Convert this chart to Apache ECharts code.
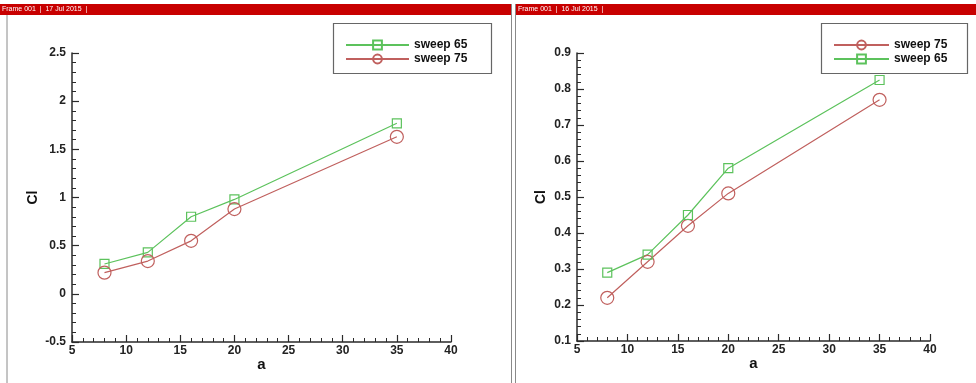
<!DOCTYPE html>
<html>
<head>
<meta charset="utf-8">
<script src="https://cdn.jsdelivr.net/npm/echarts@6/dist/echarts.min.js"></script>
<style>
html,body{margin:0;padding:0;background:#fff;}
#chart{width:976px;height:383px;}
</style>
</head>
<body>
<div id="chart"></div>
<script>
// ---- data ----
const alphaValues = [8, 12, 16, 20, 35];
const leftSweep65 = [0.31, 0.43, 0.80, 0.98, 1.77];
const leftSweep75 = [0.22, 0.34, 0.55, 0.88, 1.63];
const rightSweep75 = [0.22, 0.32, 0.42, 0.51, 0.77];
const rightSweep65 = [0.29, 0.34, 0.45, 0.58, 0.825];
const leftFrameTitle = 'Frame 001  |  17 Jul 2015  |';
const rightFrameTitle = 'Frame 001  |  16 Jul 2015  |';
const xAxisRange = [5, 40, 5];
const leftYRange = [-0.5, 2.5, 0.5];
const rightYRange = [0.1, 0.9, 0.1];
const xName = 'a';
const yName = 'Cl';
const names = ['sweep 65', 'sweep 75'];

const GREEN = '#5cc25c';
const RED = '#c0605e';
const AXIS = '#2a2a2a';
const FONT = 'Liberation Sans, Arial, sans-serif';

const pairs = arr => alphaValues.map((x, i) => [x, arr[i]]);

function xAxis(gridIndex) {
  return {
    type: 'value', gridIndex,
    min: xAxisRange[0], max: xAxisRange[1], interval: xAxisRange[2],
    name: xName, nameLocation: 'middle', nameGap: 15, nameMoveOverlap: false,
    nameTextStyle: { fontFamily: FONT, fontWeight: 'bold', fontSize: 15, color: '#111' },
    axisLine: { show: true, onZero: false, lineStyle: { color: AXIS, width: 1.5 } },
    axisTick: { show: true, inside: true, length: 7, lineStyle: { color: AXIS, width: 1.2 } },
    minorTick: { show: true, splitNumber: 5, length: 4, lineStyle: { color: AXIS, width: 1 } },
    axisLabel: { margin: 3, fontFamily: FONT, fontWeight: 'bold', fontSize: 12, color: '#222' },
    splitLine: { show: false }
  };
}
function yAxis(gridIndex, range, gap) {
  return {
    type: 'value', gridIndex,
    min: range[0], max: range[1], interval: range[2],
    name: yName, nameLocation: 'middle', nameGap: gap, nameRotate: 90,
    nameTextStyle: { fontFamily: FONT, fontWeight: 'bold', fontSize: 14, color: '#111' },
    axisLine: { show: true, onZero: false, lineStyle: { color: AXIS, width: 1.5 } },
    axisTick: { show: true, inside: true, length: 7, lineStyle: { color: AXIS, width: 1.2 } },
    minorTick: { show: true, splitNumber: 5, length: 4, lineStyle: { color: AXIS, width: 1 } },
    axisLabel: { margin: 6, fontFamily: FONT, fontWeight: 'bold', fontSize: 12, color: '#222' },
    splitLine: { show: false }
  };
}
function series(name, data, gi, color, symbol, size) {
  return {
    type: 'line', name, xAxisIndex: gi, yAxisIndex: gi,
    data: pairs(data),
    symbol, symbolSize: size, showSymbol: true,
    color: color,
    lineStyle: { color, width: 1.2 },
    itemStyle: { color: 'rgba(255,255,255,0)', borderColor: color, borderWidth: 1.2 },
    emphasis: { disabled: true },
    animation: false, z: 3
  };
}

const legendText = { fontFamily: FONT, fontWeight: 'bold', fontSize: 12, color: '#111' };

const option = {
  animation: false,
  backgroundColor: '#fff',
  grid: [
    { left: 72, top: 53, width: 379, height: 289 },
    { left: 577, top: 53, width: 353, height: 288 }
  ],
  xAxis: [xAxis(0), xAxis(1)],
  yAxis: [yAxis(0, leftYRange, 32), yAxis(1, rightYRange, 29)],
  legend: [
    { data: [names[0], names[1]], orient: 'vertical', left: 345, top: 39, itemWidth: 63, itemHeight: 11,
      itemGap: 2, padding: 0, textStyle: legendText, selectedMode: false },
    { data: [names[1], names[0]], orient: 'vertical', left: 833, top: 39, itemWidth: 55, itemHeight: 11,
      itemGap: 2, padding: 0, textStyle: legendText, selectedMode: false }
  ],
  series: [
    series(names[0], leftSweep65, 0, GREEN, 'rect', 9),
    series(names[1], leftSweep75, 0, RED, 'circle', 13),
    series(names[1], rightSweep75, 1, RED, 'circle', 13),
    series(names[0], rightSweep65, 1, GREEN, 'rect', 9)
  ],
  graphic: [
    { type: 'rect', shape: { x: 0, y: 4, width: 512, height: 11 }, style: { fill: '#c80000' }, silent: true },
    { type: 'rect', shape: { x: 516, y: 4, width: 460, height: 11 }, style: { fill: '#c80000' }, silent: true },
    { type: 'text', x: 2, y: 6, style: { text: leftFrameTitle, fill: '#fff', font: '7px ' + FONT } , silent: true},
    { type: 'text', x: 518, y: 6, style: { text: rightFrameTitle, fill: '#fff', font: '7px ' + FONT }, silent: true },
    { type: 'line', shape: { x1: 7, y1: 15, x2: 7, y2: 383 }, style: { stroke: '#8a8a8a', lineWidth: 1 }, silent: true },
    { type: 'line', shape: { x1: 511.5, y1: 4, x2: 511.5, y2: 383 }, style: { stroke: '#8a8a8a', lineWidth: 1 }, silent: true },
    { type: 'line', shape: { x1: 515.5, y1: 4, x2: 515.5, y2: 383 }, style: { stroke: '#8a8a8a', lineWidth: 1 }, silent: true },
    { type: 'rect', shape: { x: 333.5, y: 23.5, width: 158, height: 50 }, style: { fill: 'none', stroke: '#666', lineWidth: 1.2 }, silent: true },
    { type: 'rect', shape: { x: 821.5, y: 23.5, width: 146, height: 50 }, style: { fill: 'none', stroke: '#666', lineWidth: 1.2 }, silent: true }
  ]
};

const chart = echarts.init(document.getElementById('chart'), null, { renderer: 'canvas' });
chart.setOption(option);
</script>
</body>
</html>
